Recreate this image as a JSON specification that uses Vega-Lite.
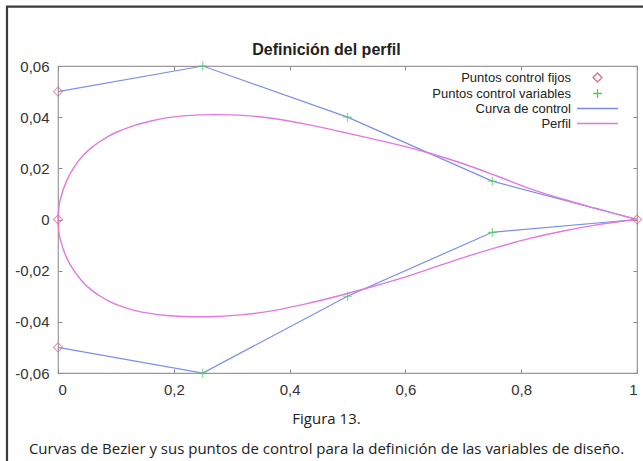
{
  "$schema": "https://vega.github.io/schema/vega-lite/v6.json",
  "width": 579,
  "height": 307,
  "autosize": {"type": "none"},
  "padding": {"left": 58, "top": 66, "right": 6, "bottom": 88},
  "background": "white",
  "datasets": {
    "perfil": [
      {"serie": "Perfil", "grupo": "sup", "x": 0, "y": 0},
      {"serie": "Perfil", "grupo": "sup", "x": 0.0012, "y": 0.0041},
      {"serie": "Perfil", "grupo": "sup", "x": 0.0035, "y": 0.0074},
      {"serie": "Perfil", "grupo": "sup", "x": 0.015, "y": 0.0152},
      {"serie": "Perfil", "grupo": "sup", "x": 0.029, "y": 0.0209},
      {"serie": "Perfil", "grupo": "sup", "x": 0.044, "y": 0.0252},
      {"serie": "Perfil", "grupo": "sup", "x": 0.058, "y": 0.0281},
      {"serie": "Perfil", "grupo": "sup", "x": 0.0725, "y": 0.0305},
      {"serie": "Perfil", "grupo": "sup", "x": 0.087, "y": 0.0325},
      {"serie": "Perfil", "grupo": "sup", "x": 0.101, "y": 0.0341},
      {"serie": "Perfil", "grupo": "sup", "x": 0.13, "y": 0.0366},
      {"serie": "Perfil", "grupo": "sup", "x": 0.159, "y": 0.0384},
      {"serie": "Perfil", "grupo": "sup", "x": 0.187, "y": 0.0397},
      {"serie": "Perfil", "grupo": "sup", "x": 0.216, "y": 0.0405},
      {"serie": "Perfil", "grupo": "sup", "x": 0.245, "y": 0.0409},
      {"serie": "Perfil", "grupo": "sup", "x": 0.274, "y": 0.041},
      {"serie": "Perfil", "grupo": "sup", "x": 0.32, "y": 0.0407},
      {"serie": "Perfil", "grupo": "sup", "x": 0.372, "y": 0.0395},
      {"serie": "Perfil", "grupo": "sup", "x": 0.43, "y": 0.0372},
      {"serie": "Perfil", "grupo": "sup", "x": 0.487, "y": 0.0344},
      {"serie": "Perfil", "grupo": "sup", "x": 0.545, "y": 0.0314},
      {"serie": "Perfil", "grupo": "sup", "x": 0.602, "y": 0.0284},
      {"serie": "Perfil", "grupo": "sup", "x": 0.642, "y": 0.0259},
      {"serie": "Perfil", "grupo": "sup", "x": 0.7, "y": 0.0218},
      {"serie": "Perfil", "grupo": "sup", "x": 0.758, "y": 0.017},
      {"serie": "Perfil", "grupo": "sup", "x": 0.815, "y": 0.0121},
      {"serie": "Perfil", "grupo": "sup", "x": 0.873, "y": 0.0079},
      {"serie": "Perfil", "grupo": "sup", "x": 0.93, "y": 0.0043},
      {"serie": "Perfil", "grupo": "sup", "x": 1, "y": 0},
      {"serie": "Perfil", "grupo": "inf", "x": 0, "y": 0},
      {"serie": "Perfil", "grupo": "inf", "x": 0.0012, "y": -0.0041},
      {"serie": "Perfil", "grupo": "inf", "x": 0.0035, "y": -0.0074},
      {"serie": "Perfil", "grupo": "inf", "x": 0.015, "y": -0.015},
      {"serie": "Perfil", "grupo": "inf", "x": 0.029, "y": -0.0205},
      {"serie": "Perfil", "grupo": "inf", "x": 0.044, "y": -0.0247},
      {"serie": "Perfil", "grupo": "inf", "x": 0.058, "y": -0.0276},
      {"serie": "Perfil", "grupo": "inf", "x": 0.0725, "y": -0.0299},
      {"serie": "Perfil", "grupo": "inf", "x": 0.087, "y": -0.0318},
      {"serie": "Perfil", "grupo": "inf", "x": 0.101, "y": -0.0333},
      {"serie": "Perfil", "grupo": "inf", "x": 0.13, "y": -0.0354},
      {"serie": "Perfil", "grupo": "inf", "x": 0.159, "y": -0.0367},
      {"serie": "Perfil", "grupo": "inf", "x": 0.187, "y": -0.0375},
      {"serie": "Perfil", "grupo": "inf", "x": 0.216, "y": -0.0379},
      {"serie": "Perfil", "grupo": "inf", "x": 0.245, "y": -0.038},
      {"serie": "Perfil", "grupo": "inf", "x": 0.274, "y": -0.0379},
      {"serie": "Perfil", "grupo": "inf", "x": 0.32, "y": -0.0372},
      {"serie": "Perfil", "grupo": "inf", "x": 0.372, "y": -0.0356},
      {"serie": "Perfil", "grupo": "inf", "x": 0.43, "y": -0.0329},
      {"serie": "Perfil", "grupo": "inf", "x": 0.487, "y": -0.0297},
      {"serie": "Perfil", "grupo": "inf", "x": 0.545, "y": -0.0261},
      {"serie": "Perfil", "grupo": "inf", "x": 0.602, "y": -0.0223},
      {"serie": "Perfil", "grupo": "inf", "x": 0.642, "y": -0.0193},
      {"serie": "Perfil", "grupo": "inf", "x": 0.7, "y": -0.0149},
      {"serie": "Perfil", "grupo": "inf", "x": 0.758, "y": -0.0109},
      {"serie": "Perfil", "grupo": "inf", "x": 0.815, "y": -0.0074},
      {"serie": "Perfil", "grupo": "inf", "x": 0.873, "y": -0.0045},
      {"serie": "Perfil", "grupo": "inf", "x": 0.93, "y": -0.0021},
      {"serie": "Perfil", "grupo": "inf", "x": 1, "y": 0}
    ],
    "control": [
      {"serie": "Curva de control", "grupo": "sup", "x": 0, "y": 0.05},
      {"serie": "Curva de control", "grupo": "sup", "x": 0.25, "y": 0.06},
      {"serie": "Curva de control", "grupo": "sup", "x": 0.5, "y": 0.04},
      {"serie": "Curva de control", "grupo": "sup", "x": 0.75, "y": 0.015},
      {"serie": "Curva de control", "grupo": "sup", "x": 1, "y": 0},
      {"serie": "Curva de control", "grupo": "inf", "x": 0, "y": -0.05},
      {"serie": "Curva de control", "grupo": "inf", "x": 0.25, "y": -0.06},
      {"serie": "Curva de control", "grupo": "inf", "x": 0.5, "y": -0.03},
      {"serie": "Curva de control", "grupo": "inf", "x": 0.75, "y": -0.005},
      {"serie": "Curva de control", "grupo": "inf", "x": 1, "y": 0}
    ],
    "puntos": [
      {"serie": "Puntos control fijos", "x": 0, "y": 0.05},
      {"serie": "Puntos control fijos", "x": 0, "y": 0},
      {"serie": "Puntos control fijos", "x": 0, "y": -0.05},
      {"serie": "Puntos control fijos", "x": 1, "y": 0},
      {"serie": "Puntos control variables", "x": 0.25, "y": 0.06},
      {"serie": "Puntos control variables", "x": 0.5, "y": 0.04},
      {"serie": "Puntos control variables", "x": 0.75, "y": 0.015},
      {"serie": "Puntos control variables", "x": 0.25, "y": -0.06},
      {"serie": "Puntos control variables", "x": 0.5, "y": -0.03},
      {"serie": "Puntos control variables", "x": 0.75, "y": -0.005}
    ]
  },
  "layer": [
    {
      "data": {"values": [{}]},
      "mark": {"type": "rule", "color": "#3a3a3a", "strokeWidth": 2.2, "clip": false},
      "encoding": {
        "x": {"datum": -0.0881, "type": "quantitative", "scale": {"domain": [0, 1], "nice": false, "zero": false}, "axis": null},
        "y": {"datum": 0.0832, "type": "quantitative", "scale": {"domain": [-0.06, 0.06], "nice": false, "zero": false}, "axis": null},
        "y2": {"datum": -0.1}
      }
    },
    {
      "data": {"values": [{}]},
      "mark": {"type": "rule", "color": "#3a3a3a", "strokeWidth": 2.2, "clip": false},
      "encoding": {
        "x": {"datum": -0.0898, "type": "quantitative", "scale": {"domain": [0, 1], "nice": false, "zero": false}, "axis": null},
        "x2": {"datum": 1.03},
        "y": {"datum": 0.0832, "type": "quantitative", "scale": {"domain": [-0.06, 0.06], "nice": false, "zero": false}, "axis": null}
      }
    },
    {
      "data": {"name": "control"},
      "mark": {"type": "line", "strokeWidth": 1.2},
      "encoding": {
        "x": {"field": "x", "type": "quantitative", "scale": {"domain": [0, 1], "nice": false, "zero": false},
          "axis": {
            "orient": "top",
            "values": [0, 0.2, 0.4, 0.6, 0.8, 1],
            "labels": false,
            "title": "Definición del perfil",
            "titleFont": "Liberation Sans",
            "titleFontSize": 16,
            "titleFontWeight": "bold",
            "titleColor": "#222222",
            "titleX": 268,
            "titleY": -12,
            "titleAlign": "center",
            "titleBaseline": "alphabetic",
            "titleAngle": 0
          }},
        "y": {"field": "y", "type": "quantitative", "scale": {"domain": [-0.06, 0.06], "nice": false, "zero": false},
          "axis": {"orient": "right", "values": [-0.06, -0.04, -0.02, 0, 0.02, 0.04, 0.06], "labels": false, "title": null}},
        "detail": {"field": "grupo"},
        "color": {
          "field": "serie", "type": "nominal", "title": null,
          "scale": {
            "domain": ["Puntos control fijos", "Puntos control variables", "Curva de control", "Perfil"],
            "range": ["#e0708c", "#4fd04f", "#7b8fe6", "#e07ae0"]
          },
          "legend": {
            "orient": "none", "legendX": 533, "legendY": 5, "padding": 0,
            "labelAlign": "right", "labelOffset": -33,
            "labelFont": "Liberation Sans", "labelFontSize": 13, "labelColor": "#222222",
            "symbolStrokeWidth": 1.3, "rowPadding": 1,
            "encode": {"symbols": {"update": {"size": {"signal": "datum.value == 'Curva de control' || datum.value == 'Perfil' ? 1681 : 81"}}}}
          }
        }
      }
    },
    {
      "data": {"name": "perfil"},
      "mark": {"type": "line", "strokeWidth": 1.4, "interpolate": "catmull-rom"},
      "encoding": {
        "x": {"field": "x", "type": "quantitative", "scale": {"domain": [0, 1], "nice": false, "zero": false},
          "axis": {
            "orient": "bottom",
            "values": [0, 0.2, 0.4, 0.6, 0.8, 1],
            "labelExpr": "replace(toString(datum.value), '.', ',')",
            "labelPadding": 13,
            "title": ["Figura 13.", "Curvas de Bezier y sus puntos de control para la definición de las variables de diseño."],
            "titleFont": "Open Sans",
            "titleFontSize": 15,
            "titleFontWeight": "normal",
            "titleColor": "#222222",
            "titleX": 268,
            "titleY": 50,
            "titleAlign": "center",
            "titleBaseline": "alphabetic",
            "titleLineHeight": 30,
            "titleAngle": 0
          }},
        "y": {"field": "y", "type": "quantitative", "scale": {"domain": [-0.06, 0.06], "nice": false, "zero": false},
          "axis": {
            "orient": "left",
            "values": [-0.06, -0.04, -0.02, 0, 0.02, 0.04, 0.06],
            "labelExpr": "replace(toString(datum.value), '.', ',')",
            "labelPadding": 13,
            "title": null
          }},
        "detail": {"field": "grupo"},
        "color": {
          "field": "serie", "type": "nominal", "title": null,
          "scale": {
            "domain": ["Puntos control fijos", "Puntos control variables", "Curva de control", "Perfil"],
            "range": ["#e0708c", "#4fd04f", "#7b8fe6", "#e07ae0"]
          },
          "legend": {
            "orient": "none", "legendX": 533, "legendY": 5, "padding": 0,
            "labelAlign": "right", "labelOffset": -33,
            "labelFont": "Liberation Sans", "labelFontSize": 13, "labelColor": "#222222",
            "symbolStrokeWidth": 1.3, "rowPadding": 1,
            "encode": {"symbols": {"update": {"size": {"signal": "datum.value == 'Curva de control' || datum.value == 'Perfil' ? 1681 : 81"}}}}
          }
        }
      }
    },
    {
      "data": {"name": "puntos"},
      "mark": {"type": "point", "filled": false, "strokeWidth": 1.2},
      "encoding": {
        "x": {"field": "x", "type": "quantitative", "scale": {"domain": [0, 1], "nice": false, "zero": false}, "axis": null},
        "y": {"field": "y", "type": "quantitative", "scale": {"domain": [-0.06, 0.06], "nice": false, "zero": false}, "axis": null},
        "color": {
          "field": "serie", "type": "nominal", "title": null,
          "scale": {
            "domain": ["Puntos control fijos", "Puntos control variables", "Curva de control", "Perfil"],
            "range": ["#e0708c", "#4fd04f", "#7b8fe6", "#e07ae0"]
          },
          "legend": {
            "orient": "none", "legendX": 533, "legendY": 5, "padding": 0,
            "labelAlign": "right", "labelOffset": -33,
            "labelFont": "Liberation Sans", "labelFontSize": 13, "labelColor": "#222222",
            "symbolStrokeWidth": 1.3, "rowPadding": 1,
            "encode": {"symbols": {"update": {"size": {"signal": "datum.value == 'Curva de control' || datum.value == 'Perfil' ? 1681 : 81"}}}}
          }
        },
        "shape": {
          "field": "serie", "type": "nominal", "title": null,
          "scale": {
            "domain": ["Puntos control fijos", "Puntos control variables", "Curva de control", "Perfil"],
            "range": ["diamond", "M-1,0H1M0,-1V1", "stroke", "stroke"]
          }
        },
        "size": {"value": 81}
      }
    }
  ],
  "resolve": {"axis": {"x": "independent", "y": "independent"}},
  "config": {
    "view": {"stroke": "#9a9a9a", "strokeWidth": 1.2},
    "axis": {
      "domain": false,
      "grid": false,
      "ticks": true,
      "tickColor": "#8a8a8a",
      "tickSize": -4,
      "labelFont": "Liberation Sans",
      "labelFontSize": 15,
      "labelColor": "#333333",
      "labelPadding": 8
    }
  }
}
